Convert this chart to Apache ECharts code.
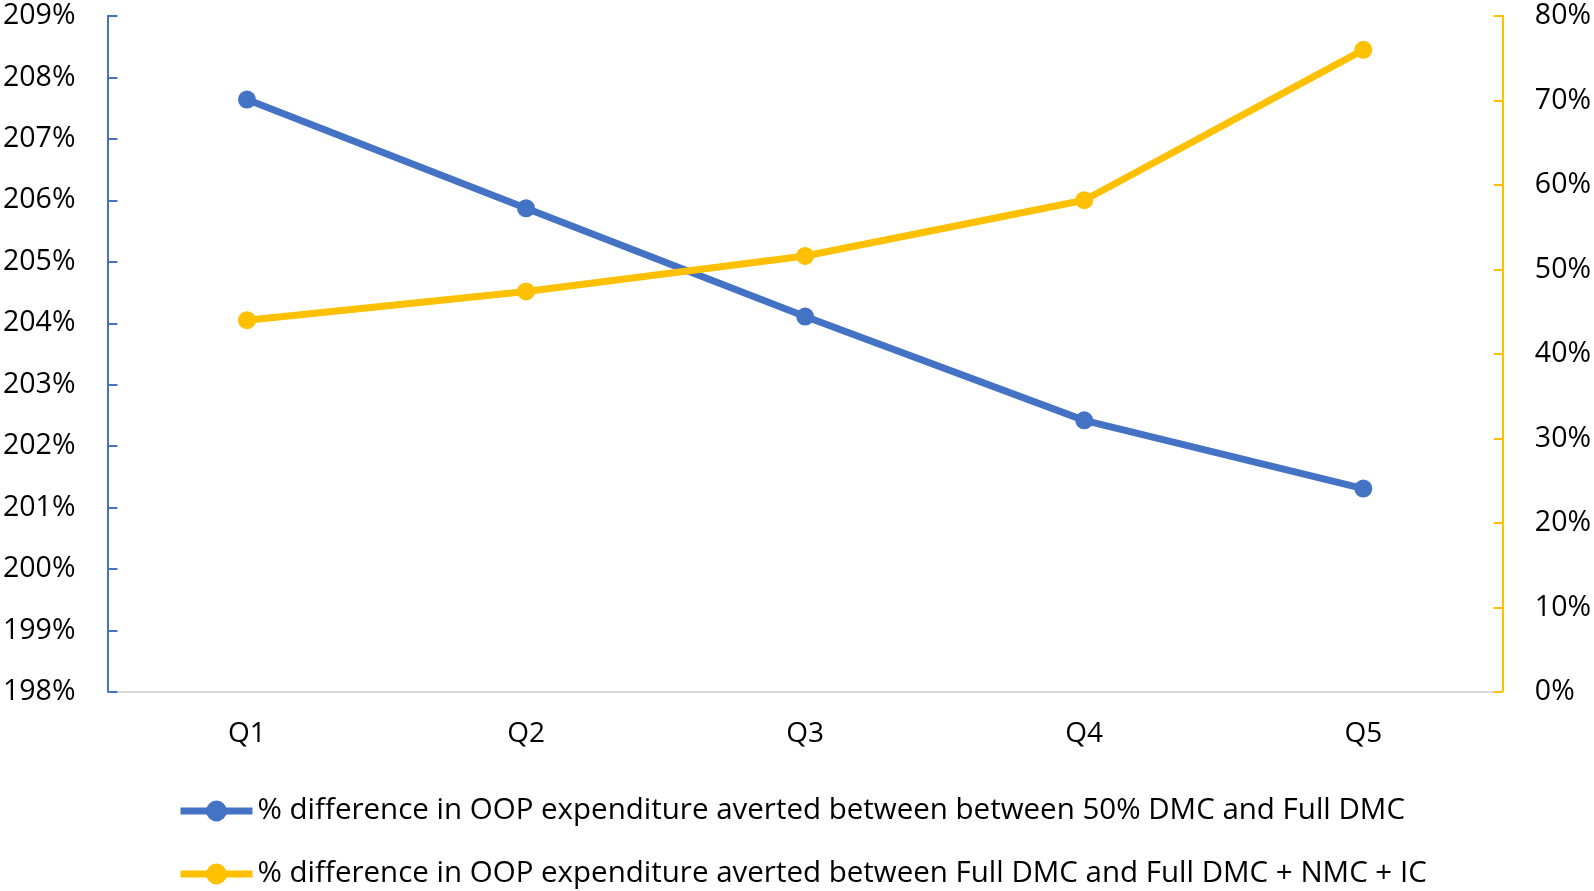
<!DOCTYPE html>
<html>
<head>
<meta charset="utf-8">
<script src="https://cdn.jsdelivr.net/npm/echarts@6/dist/echarts.min.js"></script>
<style>html,body{margin:0;padding:0;background:#fff}#c{width:1594px;height:891px}</style>
</head>
<body>
<div id="c"></div>
<script>
const categories = ['Q1', 'Q2', 'Q3', 'Q4', 'Q5'];
const seriesNames = [
  '% difference in OOP expenditure averted between between 50% DMC and Full DMC',
  '% difference in OOP expenditure averted between Full DMC and Full DMC + NMC + IC'
];
const blueValues = [207.64, 205.87, 204.11, 202.42, 201.31];
const yellowValues = [44.0, 47.4, 51.6, 58.2, 76.0];

const font = 'Open Sans';
const legendTops = [796, 859];
const chart = echarts.init(document.getElementById('c'));
chart.setOption({
  animation: false,
  backgroundColor: '#fff',
  textStyle: { fontFamily: font },
  grid: { left: 107, right: 91, top: 16, bottom: 199, containLabel: false },
  legend: seriesNames.map((name, i) => ({
    orient: 'horizontal', left: 177, top: legendTops[i], padding: 0,
    itemWidth: 72, itemHeight: 26,
    lineStyle: { width: 7 },
    textStyle: { fontFamily: font, fontSize: 29.5, color: '#000' },
    data: [name]
  })),
  xAxis: {
    type: 'category', data: categories, boundaryGap: true,
    axisLine: { lineStyle: { color: '#d9d9d9', width: 2 } },
    axisTick: { show: false },
    axisLabel: { fontFamily: font, fontSize: 28, color: '#000', margin: 28 }
  },
  yAxis: [{
    type: 'value', min: 198, max: 209, interval: 1, position: 'left',
    axisLine: { show: true, lineStyle: { color: '#4472C4', width: 2 } },
    axisTick: { show: true, inside: true, length: 10, lineStyle: { color: '#4472C4', width: 2 } },
    splitLine: { show: false },
    axisLabel: { fontFamily: font, fontSize: 28.5, color: '#000', margin: 32, formatter: '{value}%' }
  }, {
    type: 'value', min: 0, max: 80, interval: 10, position: 'right',
    axisLine: { show: true, lineStyle: { color: '#FFC000', width: 2 } },
    axisTick: { show: true, inside: true, length: 9, lineStyle: { color: '#FFC000', width: 2 } },
    splitLine: { show: false },
    axisLabel: { fontFamily: font, fontSize: 28.5, color: '#000', margin: 32, formatter: '{value}%' }
  }],
  series: [{
    name: seriesNames[0], type: 'line', yAxisIndex: 0, data: blueValues,
    symbol: 'circle', symbolSize: 18,
    lineStyle: { color: '#4472C4', width: 7 },
    itemStyle: { color: '#4472C4' }
  }, {
    name: seriesNames[1], type: 'line', yAxisIndex: 1, data: yellowValues,
    symbol: 'circle', symbolSize: 18,
    lineStyle: { color: '#FFC000', width: 7 },
    itemStyle: { color: '#FFC000' }
  }]
});
</script>
</body>
</html>
